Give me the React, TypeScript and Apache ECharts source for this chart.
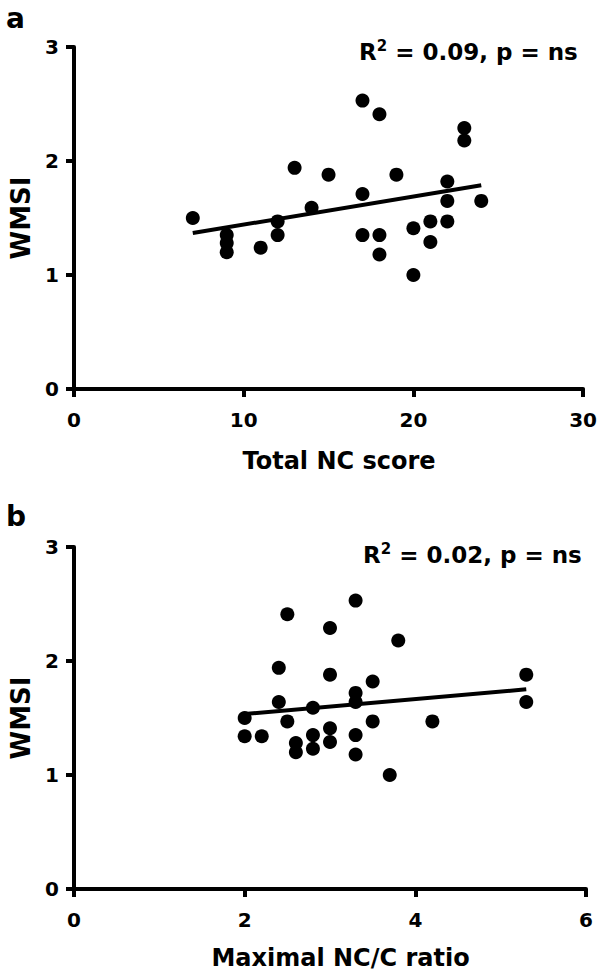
import React, { useEffect, useRef } from "react";
import * as echarts from "echarts";

// Panel a: Total NC score vs WMSI
const totalNcScore = [7, 9, 9, 9, 11, 12, 12, 13, 14, 15, 17, 17, 17, 18, 18, 18, 19, 20, 20, 21, 21, 22, 22, 22, 23, 23, 24];
const wmsiA = [1.5, 1.35, 1.28, 1.2, 1.24, 1.47, 1.35, 1.94, 1.59, 1.88, 2.53, 1.71, 1.35, 2.41, 1.35, 1.18, 1.88, 1.41, 1.0, 1.47, 1.29, 1.82, 1.65, 1.47, 2.29, 2.18, 1.65];

// Panel b: Maximal NC/C ratio vs WMSI
const maxNcRatio = [2.0, 2.0, 2.2, 2.4, 2.4, 2.5, 2.5, 2.6, 2.6, 2.8, 2.8, 2.8, 3.0, 3.0, 3.0, 3.0, 3.3, 3.3, 3.3, 3.3, 3.3, 3.5, 3.5, 3.7, 3.8, 4.2, 5.3, 5.3];
const wmsiB = [1.5, 1.34, 1.34, 1.94, 1.64, 2.41, 1.47, 1.28, 1.2, 1.59, 1.35, 1.23, 2.29, 1.88, 1.41, 1.29, 2.53, 1.72, 1.64, 1.35, 1.18, 1.82, 1.47, 1.0, 2.18, 1.47, 1.88, 1.64];

const yTicks = [0, 1, 2, 3];
const xTicksA = [0, 10, 20, 30];
const xTicksB = [0, 2, 4, 6];

const statA = "0.09";
const statB = "0.02";

function fit(xs: number[], ys: number[]) {
  const n = xs.length;
  const mx = xs.reduce((a, b) => a + b, 0) / n;
  const my = ys.reduce((a, b) => a + b, 0) / n;
  let sxy = 0;
  let sxx = 0;
  for (let i = 0; i < n; i++) {
    sxy += (xs[i] - mx) * (ys[i] - my);
    sxx += (xs[i] - mx) * (xs[i] - mx);
  }
  const slope = sxy / sxx;
  const icpt = my - slope * mx;
  const x0 = Math.min(...xs);
  const x1 = Math.max(...xs);
  return [
    [x0, icpt + slope * x0],
    [x1, icpt + slope * x1],
  ];
}

const FONT = "DejaVu Sans";

export default function App() {
  const ref = useRef<HTMLDivElement>(null);
  useEffect(() => {
    document.body.style.margin = "0";
    if (!ref.current) return;
    const chart = echarts.init(ref.current, null, { renderer: "svg" });
    const axisLine = { show: true, onZero: false, lineStyle: { color: "#000", width: 4 } };
    const axisTick = { show: true, length: 8, inside: false, lineStyle: { color: "#000", width: 4 } };
    const tickLabel = { color: "#000", fontFamily: FONT, fontWeight: "bold" as const, fontSize: 20 };
    const mkX = (gi: number, ticks: number[], name: string, gap: number) => ({
      type: "value",
      gridIndex: gi,
      min: ticks[0],
      max: ticks[ticks.length - 1],
      interval: ticks[1] - ticks[0],
      axisLine,
      axisTick,
      splitLine: { show: false },
      axisLabel: { ...tickLabel, margin: 21 },
      name,
      nameLocation: "middle",
      nameGap: gap,
      nameTextStyle: { color: "#000", fontFamily: FONT, fontWeight: "bold", fontSize: 24, padding: [0, 0, 0, 21] },
    });
    const mkY = (gi: number) => ({
      type: "value",
      gridIndex: gi,
      min: yTicks[0],
      max: yTicks[yTicks.length - 1],
      interval: 1,
      axisLine,
      axisTick,
      splitLine: { show: false },
      axisLabel: { ...tickLabel, margin: 15 },
      name: "WMSI",
      nameLocation: "middle",
      nameGap: 40,
      nameTextStyle: { color: "#000", fontFamily: FONT, fontWeight: "bold", fontSize: 26 },
    });
    const statText = (val: string, left: number, top: number) => ({
      type: "text",
      left,
      top,
      style: {
        text: "{a|R}{s|2}{a| = " + val + ", p = ns}",
        rich: {
          a: { fontFamily: FONT, fontWeight: "bold", fontSize: 23, fill: "#000", lineHeight: 28 },
          s: { fontFamily: FONT, fontWeight: "bold", fontSize: 15, fill: "#000", verticalAlign: "top", lineHeight: 28 },
        },
      },
    });
    const scatterStyle = { color: "#000", opacity: 1 };
    chart.setOption({
      animation: false,
      backgroundColor: "#fff",
      grid: [
        { left: 67, top: 47, width: 518, height: 342 },
        { left: 67, top: 547, width: 519, height: 342 },
      ],
      xAxis: [mkX(0, xTicksA, "Total NC score", 60), mkX(1, xTicksB, "Maximal NC/C ratio", 57)],
      yAxis: [mkY(0), mkY(1)],
      series: [
        {
          type: "scatter",
          xAxisIndex: 0,
          yAxisIndex: 0,
          symbol: "circle",
          symbolSize: 14,
          itemStyle: scatterStyle,
          data: totalNcScore.map((x, i) => [x, wmsiA[i]]),
        },
        {
          type: "line",
          xAxisIndex: 0,
          yAxisIndex: 0,
          symbol: "none",
          lineStyle: { color: "#000", width: 4 },
          data: fit(totalNcScore, wmsiA),
        },
        {
          type: "scatter",
          xAxisIndex: 1,
          yAxisIndex: 1,
          symbol: "circle",
          symbolSize: 14,
          itemStyle: scatterStyle,
          data: maxNcRatio.map((x, i) => [x, wmsiB[i]]),
        },
        {
          type: "line",
          xAxisIndex: 1,
          yAxisIndex: 1,
          symbol: "none",
          lineStyle: { color: "#000", width: 4 },
          data: fit(maxNcRatio, wmsiB),
        },
      ],
      graphic: [
        { type: "text", left: 6, top: 4, style: { text: "a", fontFamily: FONT, fontWeight: "bold", fontSize: 28, fill: "#000" } },
        { type: "text", left: 6, top: 502, style: { text: "b", fontFamily: FONT, fontWeight: "bold", fontSize: 28, fill: "#000" } },
        statText(statA, 359, 38),
        statText(statB, 363, 541),
      ],
    });
    return () => chart.dispose();
  }, []);
  return <div ref={ref} style={{ width: 600, height: 974 }} />;
}
